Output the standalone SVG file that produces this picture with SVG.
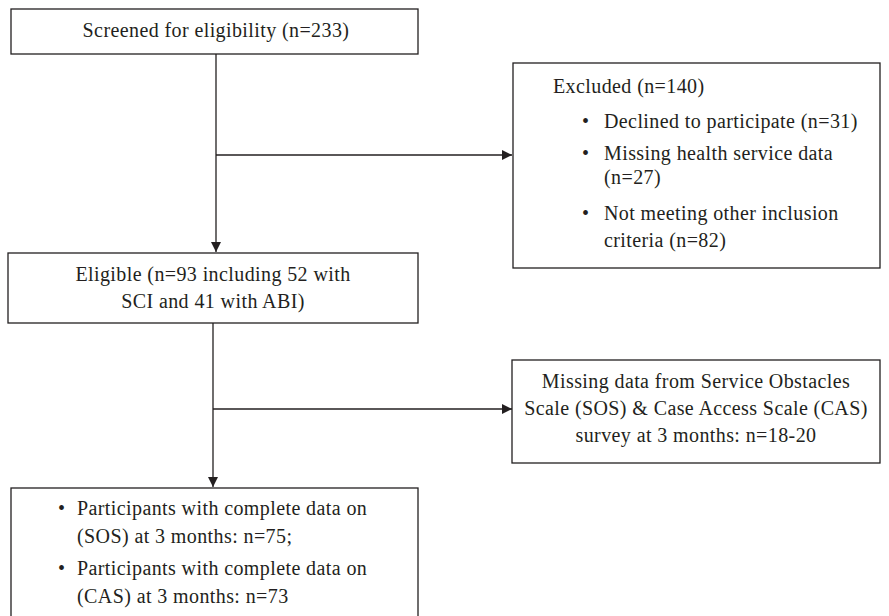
<svg xmlns="http://www.w3.org/2000/svg" width="889" height="616" viewBox="0 0 889 616">
<style>
.box{fill:#fff;stroke:#231f20;stroke-width:1.3}
.t{font-family:"Liberation Serif","Times New Roman",serif;font-size:20px;letter-spacing:0.4px;fill:#231f20}
.c{text-anchor:middle}
.ln{stroke:#231f20;stroke-width:1.3;fill:none}
</style>
<defs>
<marker id="ah" viewBox="0 0 10 10" refX="10" refY="5" markerWidth="10" markerHeight="10" markerUnits="userSpaceOnUse" orient="auto">
<path d="M0,0 L10,5 L0,10 Z" fill="#231f20"/>
</marker>
</defs>
<rect width="889" height="616" fill="#fff"/>
<g id="connectors">
<line class="ln" x1="216" y1="54" x2="216" y2="252" marker-end="url(#ah)"/>
<line class="ln" x1="216" y1="155" x2="512" y2="155" marker-end="url(#ah)"/>
<line class="ln" x1="213" y1="323" x2="213" y2="487" marker-end="url(#ah)"/>
<line class="ln" x1="213" y1="409" x2="512" y2="409" marker-end="url(#ah)"/>
</g>
<g id="screened">
<rect class="box" x="11" y="9" width="407" height="45"/>
<text class="t c" x="216" y="37">Screened for eligibility (n=233)</text>
</g>
<g id="excluded">
<rect class="box" x="513" y="63" width="367" height="205"/>
<text class="t" x="553" y="93">Excluded (n=140)</text>
<text class="t" x="582" y="128">•</text>
<text class="t" x="604" y="128">Declined to participate (n=31)</text>
<text class="t" x="582" y="160">•</text>
<text class="t" x="604" y="160">Missing health service data</text>
<text class="t" x="604" y="184">(n=27)</text>
<text class="t" x="582" y="220">•</text>
<text class="t" x="604" y="220">Not meeting other inclusion</text>
<text class="t" x="604" y="247">criteria (n=82)</text>
</g>
<g id="eligible">
<rect class="box" x="8" y="253" width="410" height="70"/>
<text class="t c" x="213" y="281">Eligible (n=93 including 52 with</text>
<text class="t c" x="213" y="308">SCI and 41 with ABI)</text>
</g>
<g id="missing">
<rect class="box" x="512" y="360" width="368" height="103"/>
<text class="t c" x="696" y="388">Missing data from Service Obstacles</text>
<text class="t c" x="696" y="415">Scale (SOS) &amp; Case Access Scale (CAS)</text>
<text class="t c" x="696" y="442">survey at 3 months: n=18-20</text>
</g>
<g id="participants">
<rect class="box" x="11" y="488" width="407" height="135"/>
<text class="t" x="58" y="515">•</text>
<text class="t" x="77" y="515">Participants with complete data on</text>
<text class="t" x="77" y="543">(SOS) at 3 months: n=75;</text>
<text class="t" x="58" y="575">•</text>
<text class="t" x="77" y="575">Participants with complete data on</text>
<text class="t" x="77" y="603">(CAS) at 3 months: n=73</text>
</g>
</svg>
